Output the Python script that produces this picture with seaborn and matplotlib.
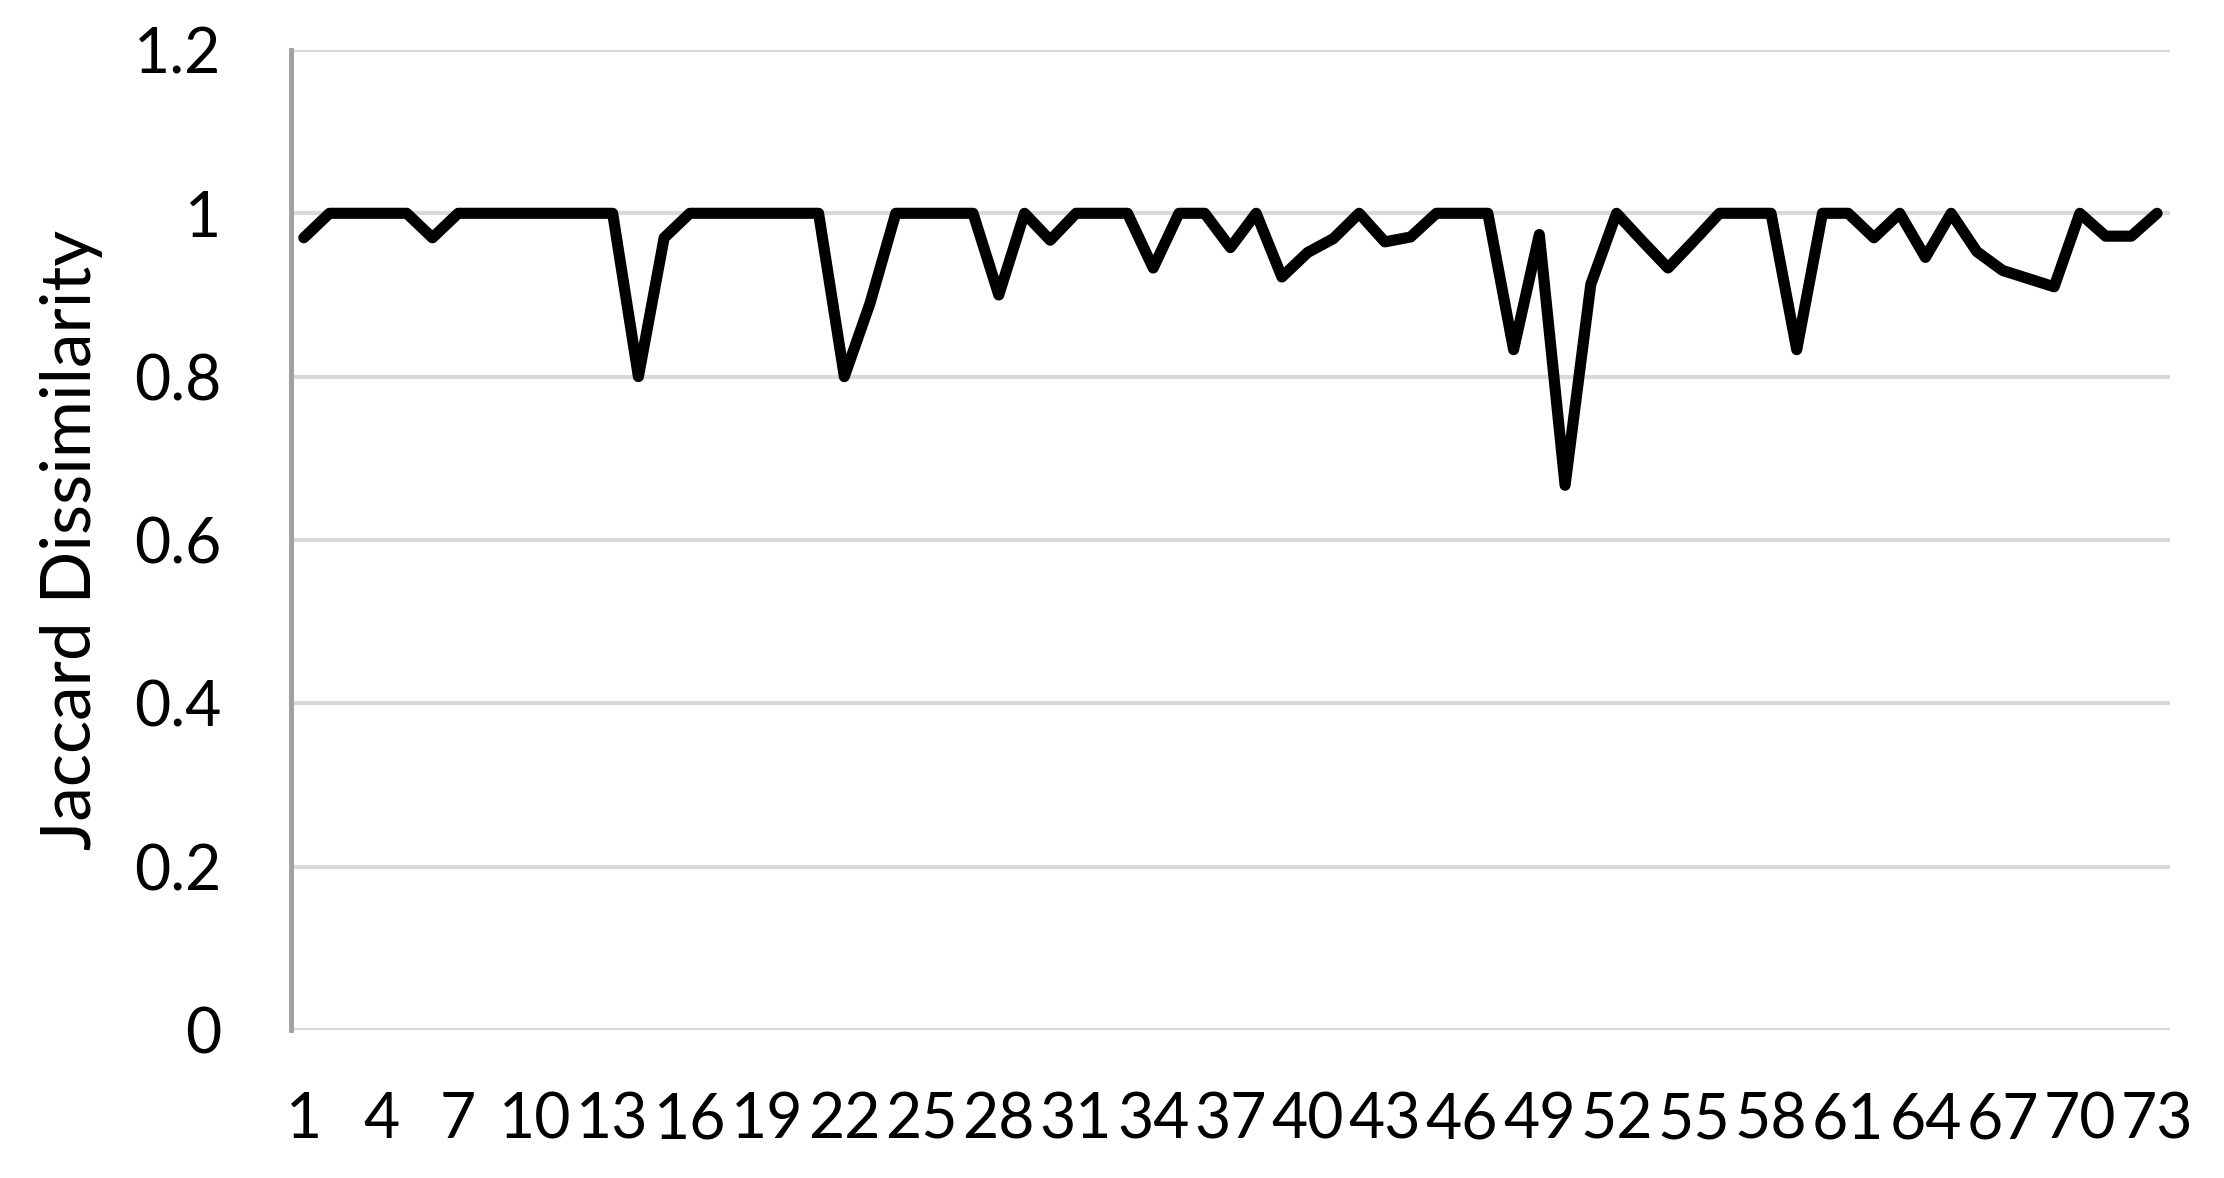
import matplotlib
matplotlib.use("Agg")
import matplotlib.pyplot as plt
import seaborn as sns
import pandas as pd

# Jaccard dissimilarity per case
cases = list(range(1, 74))
dissimilarity = [
    0.97, 1.00, 1.00, 1.00, 1.00, 0.97, 1.00, 1.00, 1.00, 1.00,
    1.00, 1.00, 1.00, 0.80, 0.97, 1.00, 1.00, 1.00, 1.00, 1.00,
    1.00, 0.80, 0.89, 1.00, 1.00, 1.00, 1.00, 0.90, 1.00, 0.967,
    1.00, 1.00, 1.00, 0.933, 1.00, 1.00, 0.958, 1.00, 0.922, 0.952,
    0.969, 1.00, 0.965, 0.971, 1.00, 1.00, 1.00, 0.833, 0.974, 0.667,
    0.913, 1.00, 0.966, 0.933, 0.966, 1.00, 1.00, 1.00, 0.833, 1.00,
    1.00, 0.97, 1.00, 0.946, 1.00, 0.953, 0.93, 0.92, 0.91, 1.00,
    0.972, 0.972, 1.00,
]
y_ticks = [0, 0.2, 0.4, 0.6, 0.8, 1.0, 1.2]
y_tick_labels = ["0", "0.2", "0.4", "0.6", "0.8", "1", "1.2"]
x_ticks = cases[::3]

df = pd.DataFrame({"case": cases, "dissimilarity": dissimilarity})

sns.set_theme(style="whitegrid")
plt.rcParams["font.family"] = ["Lato", "DejaVu Sans"]

fig = plt.figure(figsize=(22.24, 11.78), dpi=100)
ax = fig.add_axes([0.1308, 0.1256, 0.8449, 0.832])

sns.lineplot(data=df, x="case", y="dissimilarity", ax=ax, color="black",
             linewidth=8, solid_joinstyle="round", solid_capstyle="round")

ax.set_xlim(0.5, 73.5)
ax.set_ylim(0, 1.2)
ax.set_yticks(y_ticks)
ax.set_yticklabels(y_tick_labels)
ax.set_xticks(x_ticks)
ax.set_xticklabels([str(c) for c in x_ticks])

ax.grid(axis="y", color="#d9d9d9", linewidth=3)
ax.grid(axis="x", visible=False)
ax.set_axisbelow(True)

for side in ["top", "right", "bottom"]:
    ax.spines[side].set_visible(False)
ax.spines["left"].set_color("#a0a0a0")
ax.spines["left"].set_linewidth(3.5)
ax.spines["left"].set_zorder(3)

ax.tick_params(axis="both", length=0, labelsize=45, colors="black")
ax.tick_params(axis="y", pad=50)
ax.tick_params(axis="x", pad=44)

ax.set_xlabel("")
ax.set_ylabel("Jaccard Dissimilarity", fontsize=50, color="black")
ax.yaxis.set_label_coords(-0.100, 0.5)

fig.savefig("out.png", dpi=100, facecolor="white")
